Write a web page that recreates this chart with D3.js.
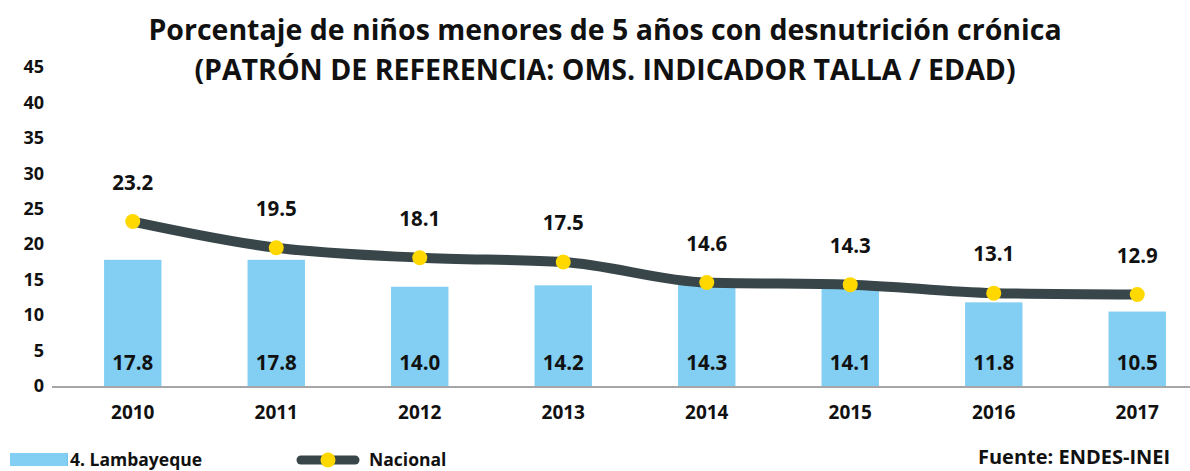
<!DOCTYPE html>
<html>
<head>
<meta charset="utf-8">
<script src="https://cdn.jsdelivr.net/npm/d3@7"></script>
<style>
  html, body { margin: 0; padding: 0; background: #fff; }
  svg { display: block; font-family: "Open Sans", sans-serif; font-weight: bold; }
</style>
</head>
<body>
<svg id="chart" width="1190" height="471"></svg>
<script>
// Chart data
const years = ["2010", "2011", "2012", "2013", "2014", "2015", "2016", "2017"];
const lambayeque = [17.8, 17.8, 14.0, 14.2, 14.3, 14.1, 11.8, 10.5];
const nacional = [23.2, 19.5, 18.1, 17.5, 14.6, 14.3, 13.1, 12.9];
const yTicks = [0, 5, 10, 15, 20, 25, 30, 35, 40, 45];
const titleLines = [
  "Porcentaje de niños menores de 5 años con desnutrición crónica",
  "(PATRÓN DE REFERENCIA: OMS. INDICADOR TALLA / EDAD)"
];
const legendLabels = ["14. Lambayeque", "Nacional"];
const sourceText = "Fuente: ENDES-INEI";

const svg = d3.select("#chart");
const font = "'Open Sans', sans-serif";

const barColor = "#82CFF3";
const lineColor = "#394649";
const dotColor = "#FFD800";

const x = d3.scaleBand().domain(years).range([61, 1209]).paddingInner(0.6).paddingOuter(0.3);
const y = d3.scaleLinear().domain([0, 45]).range([386, 67]);

// Title
svg.append("g").selectAll("text").data(titleLines).join("text")
  .attr("x", 605).attr("y", (d, i) => 40 + i * 40)
  .attr("text-anchor", "middle")
  .attr("font-size", 28.5)
  .attr("fill", "#111")
  .text(d => d);

// Y axis (labels only)
const yAxis = svg.append("g")
  .attr("transform", "translate(44,0)")
  .call(d3.axisLeft(y).tickValues(yTicks).tickSize(0).tickPadding(0));
yAxis.select(".domain").remove();
yAxis.selectAll("text").attr("font-size", 18).attr("font-family", font)
  .attr("font-weight", "bold").attr("fill", "#111");

// Bars
svg.append("g").selectAll("rect").data(years).join("rect")
  .attr("x", d => x(d))
  .attr("width", x.bandwidth())
  .attr("y", (d, i) => y(lambayeque[i]))
  .attr("height", (d, i) => y(0) - y(lambayeque[i]))
  .attr("fill", barColor);

// X axis line and labels
svg.append("line")
  .attr("x1", 52).attr("x2", 1190)
  .attr("y1", y(0) + 1).attr("y2", y(0) + 1)
  .attr("stroke", "#a6a6a6").attr("stroke-width", 2);

const xAxis = svg.append("g")
  .attr("transform", `translate(0,${y(0)})`)
  .call(d3.axisBottom(x).tickSize(0).tickPadding(20));
xAxis.select(".domain").remove();
xAxis.selectAll("text").attr("font-size", 19).attr("font-family", font)
  .attr("font-weight", "bold").attr("fill", "#111");

// Bar value labels
svg.append("g").selectAll("text").data(years).join("text")
  .attr("x", d => x(d) + x.bandwidth() / 2)
  .attr("y", 370)
  .attr("text-anchor", "middle")
  .attr("font-size", 20.5)
  .attr("fill", "#111")
  .text((d, i) => lambayeque[i].toFixed(1));

// National line
const cx = d => x(d) + x.bandwidth() / 2;
const line = d3.line()
  .x((d, i) => cx(years[i]))
  .y(d => y(d))
  .curve(d3.curveMonotoneX);

svg.append("path")
  .datum(nacional)
  .attr("d", line)
  .attr("fill", "none")
  .attr("stroke", lineColor)
  .attr("stroke-width", 10);

svg.append("g").selectAll("circle").data(nacional).join("circle")
  .attr("cx", (d, i) => cx(years[i]))
  .attr("cy", d => y(d))
  .attr("r", 7.5)
  .attr("fill", dotColor);

svg.append("g").selectAll("text").data(nacional).join("text")
  .attr("x", (d, i) => cx(years[i]))
  .attr("y", d => y(d) - 32)
  .attr("text-anchor", "middle")
  .attr("font-size", 20.5)
  .attr("fill", "#111")
  .text(d => d.toFixed(1));

// Legend
const legend = svg.append("g");
legend.append("text")
  .attr("x", 60).attr("y", 466)
  .attr("font-size", 17.5).attr("fill", "#111")
  .text(legendLabels[0]);
legend.append("rect")
  .attr("x", 10).attr("y", 453).attr("width", 57).attr("height", 13)
  .attr("fill", barColor);

legend.append("line")
  .attr("x1", 301).attr("x2", 355).attr("y1", 460).attr("y2", 460)
  .attr("stroke", lineColor).attr("stroke-width", 9).attr("stroke-linecap", "round");
legend.append("circle")
  .attr("cx", 328).attr("cy", 460).attr("r", 7.5).attr("fill", dotColor);
legend.append("text")
  .attr("x", 369).attr("y", 466)
  .attr("font-size", 17.5).attr("fill", "#111")
  .text(legendLabels[1]);

// Source
svg.append("text")
  .attr("x", 978).attr("y", 464)
  .attr("font-size", 20).attr("fill", "#111")
  .text(sourceText);
</script>
</body>
</html>
